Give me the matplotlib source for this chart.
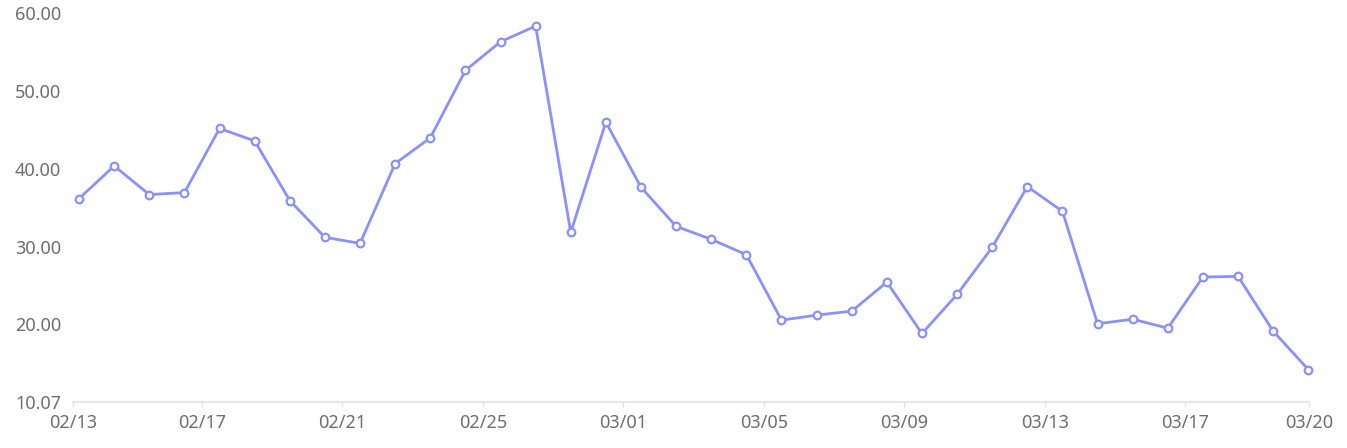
import matplotlib
matplotlib.use("Agg")
import matplotlib.pyplot as plt
import matplotlib.dates as mdates
import numpy as np
import pandas as pd

# daily readings, one per day (plotted at noon)
dates = pd.date_range("2023-02-13 12:00", periods=36, freq="D")
values = [36.18, 40.37, 36.69, 36.95, 45.19, 43.59, 35.92, 31.20, 30.42,
          40.68, 43.98, 52.65, 56.33, 58.35, 31.84, 46.00, 37.63, 32.61,
          30.94, 28.97, 20.55, 21.20, 21.71, 25.44, 18.84, 23.86, 29.91,
          37.72, 34.54, 20.09, 20.68, 19.52, 26.09, 26.18, 19.14, 14.21]

y_ticks = [10.07, 20, 30, 40, 50, 60]
x_min = pd.Timestamp("2023-02-13 07:40")
x_max = pd.Timestamp("2023-03-20 12:30")
x_ticks = [x_min] + list(pd.date_range("2023-02-17", "2023-03-17", freq="4D")) + [x_max]

plt.rcParams["font.family"] = ["Noto Sans", "DejaVu Sans"]

fig = plt.figure(figsize=(13.47, 4.48), dpi=100)
ax = fig.add_axes([0.054, 0.1033, 0.9178, 0.8672])

ax.plot(dates, values, color="#8b90fb", linewidth=2.0, marker="o",
        markersize=5.5, markerfacecolor="white", markeredgecolor="#8b90fb",
        markeredgewidth=1.6, clip_on=False, zorder=3)

ax.set_xlim(x_min, x_max)
ax.set_ylim(10.07, 60)
ax.set_yticks(y_ticks)
ax.set_yticklabels(["%.2f" % v for v in y_ticks])
ax.set_xticks(x_ticks)
ax.set_xticklabels([d.strftime("%m/%d") for d in x_ticks])

for s in ["top", "right", "left"]:
    ax.spines[s].set_visible(False)
ax.spines["bottom"].set_color("#e3e3e3")
ax.spines["bottom"].set_linewidth(1.2)

ax.tick_params(axis="y", length=0, pad=8.5, labelsize=13, labelcolor="#6e6e6e")
ax.tick_params(axis="x", length=3.6, width=1.0, color="#e3e3e3", pad=5,
               labelsize=13, labelcolor="#6e6e6e")

fig.savefig("out.png", dpi=100)
